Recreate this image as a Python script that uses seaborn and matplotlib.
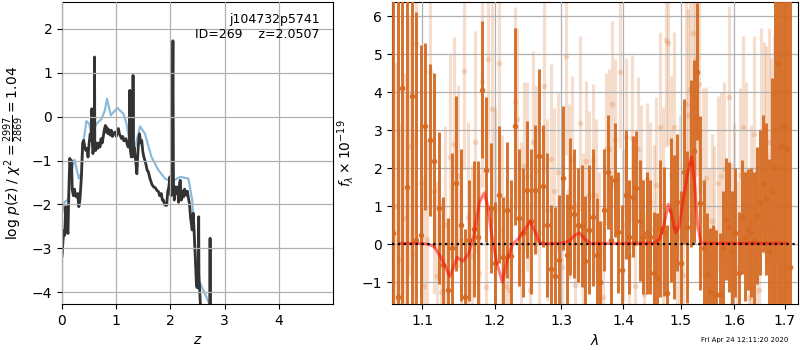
import numpy as np
import matplotlib
matplotlib.use("Agg")
import matplotlib.pyplot as plt
import seaborn as sns
from matplotlib.ticker import NullLocator

# ---------------- data: left panel (redshift fit) ----------------
z_chi = [0.0, 0.05, 0.11, 0.16, 0.23, 0.31, 0.35, 0.40, 0.45, 0.50, 0.54, 0.64, 0.73,
         0.79, 0.83, 0.90, 1.02, 1.13, 1.19, 1.25, 1.35, 1.44, 1.53, 1.65, 1.78, 1.90,
         2.02, 2.18, 2.33, 2.40, 2.49, 2.55, 2.73]
logp_chi = [-2.2, -1.94, -1.89, -1.3, -0.98, -1.41, -1.3, -0.54, -0.1, -0.16, -0.39,
            -0.16, -0.05, 0.14, 0.41, 0.03, 0.2, 0.07, -0.16, -0.61, -0.69, -0.22, -0.39,
            -0.92, -1.22, -1.41, -1.48, -1.37, -1.41, -1.9, -3.72, -3.8, -4.3]

z_pz = [0.0, 0.03, 0.05, 0.07, 0.09, 0.11, 0.13, 0.145, 0.16, 0.175, 0.19, 0.21, 0.23,
        0.25, 0.27, 0.29, 0.31, 0.33, 0.36, 0.38, 0.40, 0.42, 0.44, 0.46, 0.48, 0.50,
        0.52, 0.54, 0.55, 0.56, 0.57, 0.585, 0.595, 0.60, 0.605, 0.62, 0.64, 0.66, 0.68,
        0.70, 0.72, 0.74, 0.76, 0.78, 0.80, 0.81, 0.83, 0.85, 0.87, 0.89, 0.91, 0.93,
        0.95, 0.98, 1.00, 1.02, 1.04, 1.06, 1.08, 1.10, 1.12, 1.14, 1.16, 1.18, 1.20,
        1.22, 1.235, 1.245, 1.25, 1.255, 1.27, 1.28, 1.295, 1.305, 1.31, 1.315, 1.33,
        1.35, 1.37, 1.38, 1.40, 1.42, 1.43, 1.45, 1.47, 1.49, 1.51, 1.53, 1.55, 1.57,
        1.59, 1.62, 1.66, 1.69, 1.72, 1.75, 1.78, 1.80, 1.83, 1.85, 1.87, 1.89, 1.91,
        1.93, 1.95, 1.97, 1.99, 2.01, 2.03, 2.045, 2.055, 2.07, 2.09, 2.11, 2.13, 2.15,
        2.17, 2.18, 2.20, 2.22, 2.24, 2.26, 2.29, 2.31, 2.33, 2.35, 2.37, 2.40, 2.42,
        2.45, 2.48, 2.50, 2.515, 2.52, 2.525, 2.55, 2.60, 2.725, 2.73, 2.735]
logp_pz = [-3.19, -2.6, -2.7, -2.05, -2.5, -2.66, -1.5, -0.95, -1.2, -1.0, -1.67, -1.8,
           -1.65, -1.8, -1.83, -1.75, -2.05, -1.9, -1.33, -0.6, -0.54, -0.7, -0.77, -0.72,
           -0.92, -0.6, -0.39, -0.55, 0.18, -0.6, -0.84, -0.7, -0.75, 1.36, -0.75, -0.77,
           -0.6, -0.72, -0.6, -0.69, -0.5, -0.6, -0.46, -0.3, -0.2, -0.35, -0.25, -0.39,
           -0.3, -0.42, -0.31, -0.45, -0.38, -0.35, -0.45, -0.32, -0.27, -0.4, -0.45,
           -0.5, -0.45, -0.55, -0.54, -0.5, -0.62, -0.69, -0.55, -0.6, 0.6, -0.7, -0.85,
           -0.92, -0.75, -0.9, 0.94, -0.9, -0.7, -0.92, -1.15, -1.3, -0.8, -0.45, -0.39,
           -0.6, -0.54, -0.8, -0.92, -1.0, -1.1, -1.22, -1.25, -1.4, -1.55, -1.6, -1.62,
           -1.68, -1.71, -1.8, -1.75, -1.9, -1.9, -2.0, -2.02, -2.02, -1.7, -1.6, -1.37,
           -1.8, -1.4, 1.73, -1.5, -1.9, -1.6, -1.75, -1.6, -1.95, -1.5, -1.45, -1.9,
           -1.7, -1.83, -1.65, -1.79, -1.7, -1.85, -1.98, -2.3, -2.58, -2.2, -3.0, -3.87,
           -3.9, -3.5, -2.28, -3.6, -4.25, -4.5, -4.5, -2.77, -4.5]

field_name = "j104732p5741"
obj_id = 269
z_best = 2.0507

# ---------------- data: right panel (spectrum) ----------------
wave_a = [1.062, 1.068, 1.074, 1.080, 1.086, 1.092, 1.098, 1.104, 1.110, 1.116, 1.122,
          1.128, 1.134, 1.140, 1.146, 1.152, 1.158, 1.164, 1.170, 1.176, 1.182, 1.188,
          1.194, 1.200, 1.206, 1.212, 1.218, 1.224, 1.230, 1.236, 1.242, 1.248, 1.254,
          1.260, 1.266, 1.272, 1.278, 1.284, 1.290, 1.296, 1.302, 1.308, 1.314, 1.320,
          1.326, 1.332, 1.338, 1.344, 1.350, 1.356, 1.362, 1.368, 1.374, 1.380, 1.386,
          1.392, 1.398, 1.404, 1.410, 1.416, 1.422, 1.428, 1.434, 1.440, 1.446, 1.452,
          1.458, 1.464, 1.470, 1.476, 1.482, 1.488, 1.494, 1.500, 1.506, 1.512, 1.518,
          1.524, 1.530, 1.536, 1.542, 1.548, 1.554, 1.560, 1.566, 1.572, 1.578, 1.584,
          1.590, 1.596, 1.602, 1.608, 1.614, 1.620, 1.626, 1.632, 1.638, 1.644, 1.650,
          1.656, 1.662, 1.668, 1.674, 1.680, 1.686, 1.692, 1.698, 1.704, 1.710]
flux_a = [0.3, -1.4, 4.1, 1.5, 3.9, 0.1, 0.25, 3.1, 2.75, 2.2, 0.95,
          -0.55, -1.2, -0.1, 1.6, 0.5, -1.4, 0.1, 0.4, 0.2, 4.06, 1.96,
          0.95, -0.5, 1.3, -0.35, 0.9, -0.3, 3.1, 0.7, 0.3, 1.43, 0.6,
          1.43, 2.32, 1.53, 0.5, -0.66, -0.83, -0.41, 1.74, -0.28, 0.99, 0.8,
          0.51, 0.48, -0.44, 0.38, 0.71, -0.28, -1.0, 0.9, 1.91, 0.11, 1.69,
          0.31, -0.68, 1.3, 0.18, 1.25, 1.47, 0.62, 0.18, 0.29, 0.18, -0.76,
          -0.89, 0.42, 0.33, -1.29, 0.9, 0.45, 1.1, -0.5, 1.91, 0.46, 2.13,
          2.44, 4.54, 1.08, -0.1, -0.78, -1.27, -1.29, -1.33, -1.3, -0.1, 0.66,
          0.45, -0.2, 0.3, -0.75, 0.71, 0.2, 0.38, 0.3, 0.11, 0.75, 1.1,
          1.59, 1.18, -0.17, 1.36, 2.0, 4.76, 2.57, 3.11, 2.5, -0.6]
err_a = [8, 9, 9, 8, 7, 6, 5, 2.2, 2.0, 2.3, 2.0,
         1.8, 1.9, 2.5, 2.3, 2.0, 1.8, 1.6, 1.8, 2.0, 1.8, 1.9,
         1.7, 1.6, 1.8, 1.6, 1.8, 2.0, 2.6, 1.8, 1.7, 1.8, 1.9,
         1.7, 2.3, 1.6, 1.9, 1.7, 1.8, 1.7, 1.9, 1.6, 1.8, 1.7,
         1.5, 1.6, 1.7, 1.7, 1.8, 1.5, 1.6, 1.6, 1.5, 1.7, 1.5,
         1.6, 1.7, 1.7, 1.5, 1.6, 1.5, 1.6, 1.5, 1.6, 1.5, 1.6,
         1.7, 1.8, 1.7, 1.8, 1.9, 1.9, 1.8, 1.9, 1.9, 2.0, 2.2,
         2.4, 1.8, 2.3, 1.8, 1.6, 1.7, 1.8, 1.7, 1.6, 1.5, 1.6,
         1.7, 1.6, 1.7, 1.6, 1.5, 1.7, 1.6, 1.7, 1.8, 1.8, 1.9,
         1.8, 2.0, 2.4, 3.0, 8, 9, 10, 10, 10, 10]

wave_b = [1.064, 1.070, 1.076, 1.082, 1.088, 1.092, 1.098, 1.102, 1.106, 1.110, 1.115,
          1.120, 1.125, 1.131, 1.137, 1.142, 1.148, 1.152, 1.157, 1.162, 1.167, 1.172,
          1.177, 1.182, 1.187, 1.190, 1.196, 1.201, 1.206, 1.211, 1.216, 1.221, 1.229,
          1.233, 1.238, 1.243, 1.248, 1.252, 1.256, 1.261, 1.266, 1.273, 1.278, 1.284,
          1.289, 1.295, 1.301, 1.307, 1.312, 1.317, 1.322, 1.329, 1.334, 1.339, 1.344,
          1.350, 1.355, 1.360, 1.366, 1.372, 1.377, 1.381, 1.387, 1.394, 1.399, 1.404,
          1.410, 1.415, 1.420, 1.425, 1.430, 1.436, 1.441, 1.446, 1.452, 1.457, 1.463,
          1.468, 1.474, 1.478, 1.483, 1.488, 1.493, 1.498, 1.504, 1.509, 1.513, 1.517,
          1.522, 1.526, 1.530, 1.534, 1.540, 1.546, 1.552, 1.557, 1.562, 1.568, 1.574,
          1.580, 1.589, 1.594, 1.600, 1.605, 1.611, 1.617, 1.622, 1.628, 1.633, 1.638,
          1.643, 1.648, 1.652, 1.657, 1.662, 1.667, 1.672, 1.678, 1.684, 1.690, 1.696,
          1.702]
flux_b = [1.0, -0.4, 0.7, 2.57, -0.25, 5.3, 1.62, -1.1, 0.13, 4.54, 1.4,
          -0.83, -1.25, 0.5, 2.3, 2.64, 1.78, 0.1, 4.56, 0.71, -0.32, 2.7,
          -0.76, 4.3, -1.13, 4.87, 3.56, 0.9, 4.78, 0.38, -1.11, -1.2, 3.74,
          3.3, 0.4, 2.06, 1.78, -1.2, 2.68, 1.96, 0.3, 4.17, 0.9, 2.24,
          1.39, 1.89, -0.6, 4.94, 1.39, 2.22, -1.07, 3.18, 0.2, 2.19, 1.3,
          2.22, 1.3, -0.2, -1.38, 2.5, 2.5, 3.68, 2.76, 4.53, 0.5, 2.81,
          -0.32, 2.79, -1.1, 2.5, 1.65, -1.3, 1.71, 1.12, 0.4, 1.56, 3.08,
          1.0, 5.36, 5.3, 1.82, 3.08, 0.2, 0.9, -0.8, 3.69, 3.4, 4.08,
          5.55, 3.36, 4.89, 4.22, 1.62, 1.74, -0.3, 0.6, 0.38, 1.6, 1.8,
          1.98, 3.87, -0.06, 1.0, -0.63, 1.82, 3.08, 1.87, -1.42, 0.64, 2.89,
          -0.46, -1.2, 2.99, 2.53, 2.32, 2.68, 1.5, 0.5, 5.57, 3.14, 2.0,
          1.0]
err_b = [3.8, 3.6, 3.8, 3.4, 3.2, 2.8, 3.0, 2.9, 2.6, 2.6, 2.7,
         2.5, 2.4, 2.6, 2.7, 2.8, 2.4, 2.3, 2.6, 2.5, 2.4, 2.9,
         2.6, 2.8, 2.7, 3.0, 3.0, 2.7, 2.6, 2.5, 2.4, 2.4, 2.5,
         2.4, 2.3, 2.2, 2.5, 2.3, 2.4, 2.2, 2.3, 2.3, 2.4, 2.5,
         2.2, 2.1, 2.3, 2.6, 2.3, 2.2, 2.2, 2.3, 2.2, 2.1, 2.2,
         2.0, 2.0, 2.1, 2.0, 2.0, 2.1, 2.2, 2.1, 2.0, 2.0, 2.1,
         2.0, 2.2, 2.0, 1.9, 2.0, 2.1, 2.0, 2.1, 2.2, 2.3, 2.5,
         2.6, 2.8, 2.7, 2.6, 2.5, 2.4, 2.5, 2.6, 2.7, 2.8, 2.9,
         3.2, 3.0, 3.1, 2.9, 2.5, 2.4, 2.3, 2.3, 2.2, 2.3, 2.2,
         2.3, 2.4, 2.2, 2.2, 2.3, 2.3, 2.4, 2.4, 2.3, 2.5, 2.6,
         2.5, 2.6, 2.7, 2.8, 2.9, 3.0, 3.4, 5, 6, 7, 8,
         8]

wave_model = [1.071, 1.090, 1.105, 1.115, 1.125, 1.137, 1.147, 1.155, 1.163, 1.170,
              1.178, 1.185, 1.190, 1.196, 1.203, 1.211, 1.218, 1.226, 1.235, 1.243,
              1.252, 1.259, 1.266, 1.275, 1.300, 1.312, 1.320, 1.328, 1.336, 1.345,
              1.400, 1.455, 1.463, 1.470, 1.478, 1.485, 1.491, 1.497, 1.505, 1.512,
              1.520, 1.526, 1.531, 1.537, 1.550, 1.600, 1.650, 1.704]
flux_model = [0.02, 0.02, 0.01, -0.05, -0.35, -0.85, -0.35, -0.45, -0.25, 0.2,
              1.1, 1.35, 1.0, 0.2, -0.5, -1.0, -0.4, 0.0, 0.15, 0.35,
              0.6, 0.35, 0.05, 0.01, 0.02, 0.08, 0.22, 0.3, 0.15, 0.02,
              0.02, 0.03, 0.15, 0.5, 1.05, 0.7, 0.3, 0.45, 1.2, 1.8,
              2.3, 1.5, 0.5, 0.03, 0.02, 0.02, 0.02, 0.02]

wave_ticks = [1.1, 1.2, 1.3, 1.4, 1.5, 1.6, 1.7]
timestamp = "Fri Apr 24 12:11:20 2020"

# ---------------- style ----------------
sns.set_style("ticks")
plt.rcParams['font.family'] = ['DejaVu Sans']
plt.rcParams['axes.edgecolor'] = 'black'
plt.rcParams['xtick.color'] = 'black'
plt.rcParams['ytick.color'] = 'black'
plt.rcParams['axes.labelcolor'] = 'black'
plt.rcParams['text.color'] = 'black'

fig = plt.figure(figsize=(8, 3.5), dpi=100)
ax1 = fig.add_axes([0.0775, 0.131, 0.339, 0.863])
ax2 = fig.add_axes([0.49, 0.131, 0.5075, 0.863])

grid_kw = dict(color='#b0b0b0', lw=0.9)

# ---- left panel ----
sns.lineplot(x=z_chi, y=logp_chi, ax=ax1, estimator=None, sort=False,
             color='#1f77b4', alpha=0.5, lw=1.6)
sns.lineplot(x=z_pz, y=logp_pz, ax=ax1, estimator=None, sort=False,
             color='0.2', lw=2.0)
ax1.set_xlim(0, 5.0)
ax1.set_ylim(-4.27, 2.61)
ax1.set_xticks([0, 1, 2, 3, 4])
ax1.set_yticks([-4, -3, -2, -1, 0, 1, 2])
ax1.set_axisbelow(False)
ax1.grid(True, **grid_kw)
ax1.set_xlabel(r'$z$')
ax1.set_ylabel(r'log $p(z)$ / $\chi^2=\frac{2997}{2869}=1.04$')
ax1.text(0.95, 0.965, f"{field_name}\nID={obj_id}    z={z_best:.4f}",
         transform=ax1.transAxes, ha='right', va='top', fontsize=9)

# ---- right panel ----
col = '#d56a22'
ax2.errorbar(wave_b, flux_b, yerr=err_b, fmt='o', ms=4, color=col, alpha=0.22,
             elinewidth=2.3, capsize=0, markeredgewidth=0, zorder=2)
ax2.errorbar(wave_a, flux_a, yerr=err_a, fmt='o', ms=4, color=col, alpha=0.95,
             elinewidth=2.1, capsize=0, markeredgewidth=0, zorder=3)
sns.lineplot(x=wave_model, y=flux_model, ax=ax2, estimator=None, sort=False,
             color='red', alpha=0.5, lw=2.2, zorder=4)
ax2.set_xscale('log')
ax2.set_xlim(1.0607, 1.727)
ax2.set_ylim(-1.58, 6.37)
ax2.plot([1.0607, 1.727], [0, 0], color='black', ls=':', lw=1.6, zorder=5)
ax2.set_xticks(wave_ticks)
ax2.set_xticklabels([f"{t:.1f}" for t in wave_ticks])
ax2.xaxis.set_minor_locator(NullLocator())
ax2.set_yticks([-1, 0, 1, 2, 3, 4, 5, 6])
ax2.set_axisbelow(False)
ax2.grid(True, zorder=6, **grid_kw)
ax2.set_xlabel(r'$\lambda$')
ax2.set_ylabel(r'$f_\lambda\times10^{-19}$')

fig.text(0.985, 0.028, timestamp, ha='right', va='center', fontsize=5)

fig.savefig('out.png', dpi=100)
